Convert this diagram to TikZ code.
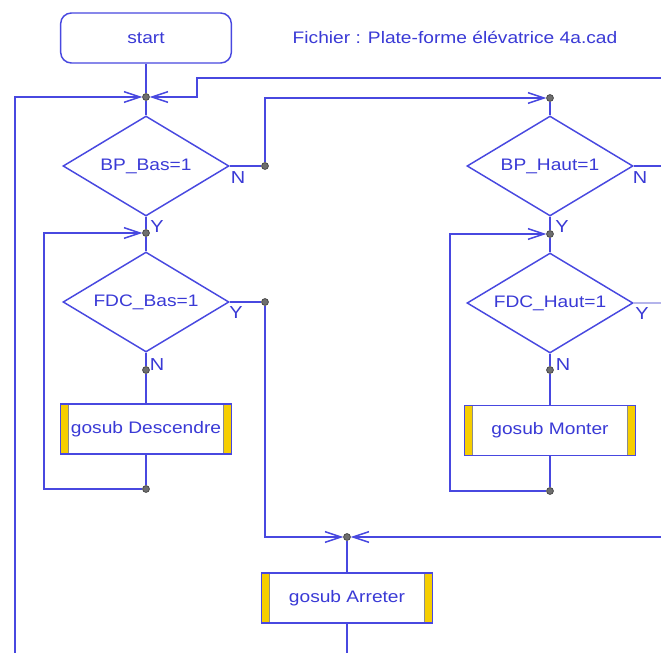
\documentclass[tikz,border=0pt]{standalone}
\usepackage{fontspec}
\setmainfont{Liberation Sans}[FakeStretch=1.15]
\usetikzlibrary{shapes.geometric,arrows.meta}
\definecolor{ln}{RGB}{72,72,224}
\definecolor{tx}{RGB}{58,58,214}
\definecolor{yb}{RGB}{246,206,0}
\definecolor{dotc}{RGB}{110,110,110}
\definecolor{faint}{RGB}{180,180,235}
\begin{document}
\begin{tikzpicture}[x=0.75pt,y=-0.75pt,
  every node/.style={font=\fontsize{12.5}{14}\selectfont, text=tx},
  line/.style={draw=ln, line width=1.1pt},
  arr/.style={-{Straight Barb[length=12pt,width=8pt]}},
  dec/.style={diamond, draw=ln, line width=1.1pt, minimum width=124.5pt, minimum height=75pt, inner sep=0pt, aspect=2},
  term/.style={rectangle, rounded corners=8pt, draw=ln, line width=1.1pt, minimum width=128pt, minimum height=37.5pt, inner sep=0pt},
  sub/.style={rectangle, draw=ln, line width=1.1pt, minimum width=128pt, minimum height=37.5pt, inner sep=0pt,
    path picture={
      \fill[yb] (path picture bounding box.north west) rectangle ([xshift=6pt]path picture bounding box.south west);
      \fill[yb] (path picture bounding box.north east) rectangle ([xshift=-6pt]path picture bounding box.south east);
      \draw[black!45, line width=0.8pt] ([xshift=6pt]path picture bounding box.north west) -- ([xshift=6pt]path picture bounding box.south west);
      \draw[black!45, line width=0.8pt] ([xshift=-6pt]path picture bounding box.north east) -- ([xshift=-6pt]path picture bounding box.south east);
    }},
  jdot/.style={circle, fill=dotc, draw=black!70, line width=0.5pt, inner sep=0pt, minimum size=5pt},
  lbl/.style={inner sep=0pt, font=\fontsize{13}{14}\selectfont}
]
\useasboundingbox[fill=white] (0,0) rectangle (661,653);

% nodes
\node[term] (start) at (146,38) {start};
\node[inner sep=0pt, text=tx] (title) at (455,37) {Fichier : Plate-forme élévatrice 4a.cad};

\node[dec] (d1) at (146,166) {BP\_Bas=1};
\node[dec] (d2) at (550,166) {BP\_Haut=1};
\node[dec] (d3) at (146,302) {FDC\_Bas=1};
\node[dec] (d4) at (550,303) {FDC\_Haut=1};

\node[sub] (s1) at (146,429) {gosub Descendre};
\node[sub] (s2) at (550,430.5) {gosub Monter};
\node[sub] (s3) at (347,598) {gosub Arreter};

\node[jdot] (j1) at (146,97) {};
\node[jdot] (j2) at (550,98) {};
\node[jdot] (j3) at (146,233) {};
\node[jdot] (j4) at (550,234) {};
\node[jdot] (j5) at (347,537) {};
\node[jdot] (n1) at (265,166) {};
\node[jdot] (y3) at (265,302) {};
\node[jdot] (n3) at (146,370) {};
\node[jdot] (n4) at (550,370) {};
\node[jdot] (l1) at (146,489) {};
\node[jdot] (l2) at (550,491) {};

\coordinate (e1) at (661,78);
\coordinate (k1) at (197,78);
\coordinate (e2) at (661,166);
\coordinate (e3) at (661,303);
\coordinate (e4) at (661,537);
\coordinate (e5) at (347,653);
\coordinate (e6) at (15,653);
\coordinate (c1) at (44,489);
\coordinate (c2) at (450,491);

% labels
\node[lbl] (ln1) at (238,178) {N};
\node[lbl] (ly1) at (157,227) {Y};
\node[lbl] (ly3) at (236,313) {Y};
\node[lbl] (ln3) at (157,365) {N};
\node[lbl] (ln2) at (640,178) {N};
\node[lbl] (ly2) at (562,227) {Y};
\node[lbl] (ly4) at (642,314) {Y};
\node[lbl] (ln4) at (563,365) {N};

% connectors
\draw[line] (start) -- (j1);
\draw[line,arr] (e1) -- (k1) |- (j1);
\draw[line,arr] (e6) |- (j1);
\draw[line] (j1) -- (d1.north);
\draw[line] (d1.east) -- (n1);
\draw[line,arr] (n1) |- (j2);
\draw[line] (j2) -- (d2.north);
\draw[line] (d2.east) -- (e2);
\draw[line] (d1.south) -- (j3);
\draw[line] (j3) -- (d3.north);
\draw[line] (d3.east) -- (y3);
\draw[line,arr] (y3) |- (j5);
\draw[line] (d3.south) -- (n3);
\draw[line] (n3) -- (s1.north);
\draw[line] (s1.south) -- (l1);
\draw[line,arr] (l1) -- (c1) |- (j3);
\draw[line] (d2.south) -- (j4);
\draw[line] (j4) -- (d4.north);
\draw[draw=faint, line width=1.1pt] (d4.east) -- (e3);
\draw[line] (d4.south) -- (n4);
\draw[line] (n4) -- (s2.north);
\draw[line] (s2.south) -- (l2);
\draw[line,arr] (l2) -- (c2) |- (j4);
\draw[line,arr] (e4) -- (j5);
\draw[line] (j5) -- (s3.north);
\draw[line] (s3.south) -- (e5);

% redraw dots on top
\foreach \d in {j1,j2,j3,j4,j5,n1,y3,n3,n4,l1,l2}
  \node[jdot] at (\d) {};
\end{tikzpicture}
\end{document}
